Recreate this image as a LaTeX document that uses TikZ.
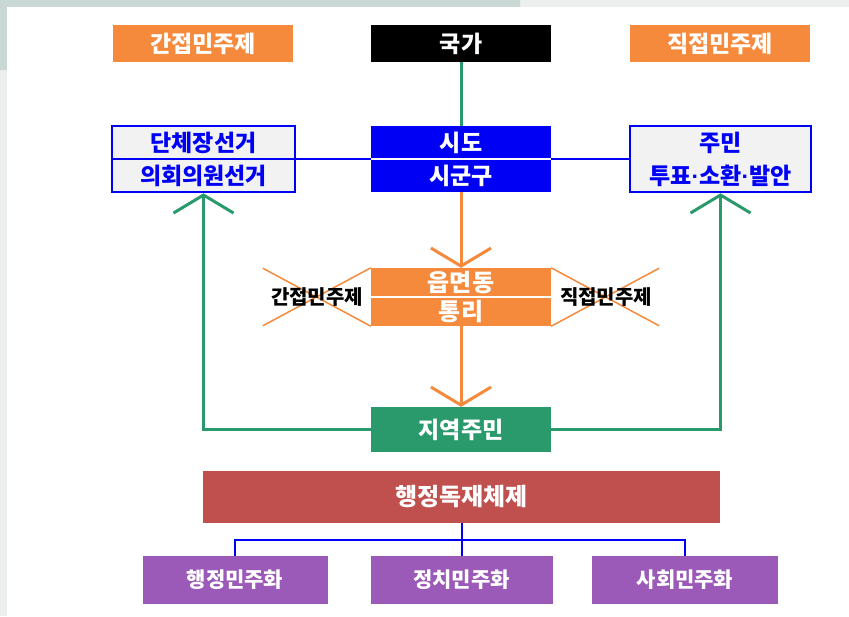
\documentclass[tikz,border=0pt]{standalone}
\usepackage{fontspec}
\setmainfont{Noto Sans CJK KR}
\newfontfamily\dotfont{Liberation Sans}
\usepackage{xcolor}
\usetikzlibrary{arrows.meta, positioning}

\definecolor{orangeA}{HTML}{F58A3D}
\definecolor{blueA}{HTML}{0000F5}
\definecolor{grayA}{HTML}{F2F2F2}
\definecolor{greenA}{HTML}{2A9A6C}
\definecolor{redA}{HTML}{C0504D}
\definecolor{purpleA}{HTML}{9B59B8}
\definecolor{bgteal}{HTML}{C9D7D5}
\definecolor{bglight}{HTML}{ECEFEE}

\newcommand{\middot}{{\dotfont\bfseries ·}}

\begin{document}
\begin{tikzpicture}[x=1pt,y=-1pt,
    box/.style={rectangle, minimum width=180pt, minimum height=37pt, inner sep=0pt,
        align=center, text=white, font=\bfseries\fontsize{23}{33}\selectfont},
    framebox/.style={box, draw=blueA, line width=2.5pt, fill=grayA, text=blueA},
    forktip/.style={-{Straight Barb[length=18pt,width=60pt]}},
    greenline/.style={greenA, line width=3pt},
    orangeline/.style={orangeA, line width=3pt},
    crossline/.style={orangeA, line width=1.5pt},
    treeline/.style={blueA, line width=2pt},
    crosslabel/.style={font=\bfseries\fontsize{20}{22}\selectfont},
    reformbox/.style={box, fill=purpleA, minimum height=48pt, font=\bfseries\fontsize{21}{24}\selectfont}]

    % background panel
    \useasboundingbox (0,0) rectangle (849,616);
    \fill[bglight] (0,0) rectangle (849,616);
    \fill[bgteal] (0,0) rectangle (520,7) (0,0) rectangle (7,70);
    \fill[white] (7,7) rectangle (849,616);

    % top row
    \node[box, fill=orangeA] (ganjeop) at (203,43.5) {간접민주제};
    \node[box, fill=black] (gukga) at (461,43.5) {국가};
    \node[box, fill=orangeA] (jikjeop) at (720,43.5) {직접민주제};

    % second row
    \node[framebox, minimum width=183pt, minimum height=66pt] (election) at (203.5,159) {단체장선거\\의회의원선거};
    \node[box, fill=blueA, minimum height=66pt] (sido) at (461,159) {시도\\시군구};
    \node[framebox, minimum width=181pt, minimum height=66pt] (vote) at (720.5,159) {주민\\투표\middot 소환\middot 발안};
    \draw[blueA, line width=1.5pt] (election.west) -- (election.east);
    \draw[white, line width=1.5pt] (sido.west) -- (sido.east);

    % eup-myeon-dong with crossed labels
    \node[box, fill=orangeA, minimum height=58pt, font=\bfseries\fontsize{24}{29}\selectfont] (eup) at (461,297) {읍면동\\통리};
    \draw[white, line width=1.5pt] (eup.west) -- (eup.east);
    \draw[crossline] (eup.north west) -- ++(-108,58);
    \draw[crossline] (eup.south west) -- ++(-108,-58);
    \draw[crossline] (eup.north east) -- ++(108,58);
    \draw[crossline] (eup.south east) -- ++(108,-58);
    \node[crosslabel] (ganjeoplabel) at (317,297) {간접민주제};
    \node[crosslabel] (jikjeoplabel) at (606,297) {직접민주제};

    \node[box, fill=greenA, minimum height=45pt] (jiyeok) at (461,429.5) {지역주민};

    % bottom tree
    \node[box, fill=redA, minimum width=517pt, minimum height=52pt, font=\bfseries\fontsize{24}{28}\selectfont] (dokjae) at (461.5,497) {행정독재체제};
    \node[reformbox, minimum width=185pt] (haengjeong) at (235,580) {행정민주화};
    \node[reformbox, minimum width=182pt] (jeongchi) at (461.5,580) {정치민주화};
    \node[reformbox, minimum width=186pt] (sahoe) at (685,580) {사회민주화};
    \coordinate (fork) at (461.5,540);

    % connectors
    \draw[greenline] (gukga) -- (sido);
    \draw[treeline] (election) -- (sido);
    \draw[treeline] (sido) -- (vote);
    \draw[orangeline, forktip] (sido) -- (eup);
    \draw[orangeline, forktip] (eup) -- (jiyeok);
    \draw[greenline, forktip] (jiyeok) -| (election);
    \draw[greenline, forktip] (jiyeok) -| (vote);
    \draw[treeline] (dokjae) -- (jeongchi);
    \draw[treeline] (haengjeong) |- (fork) -| (sahoe);

\end{tikzpicture}
\end{document}
